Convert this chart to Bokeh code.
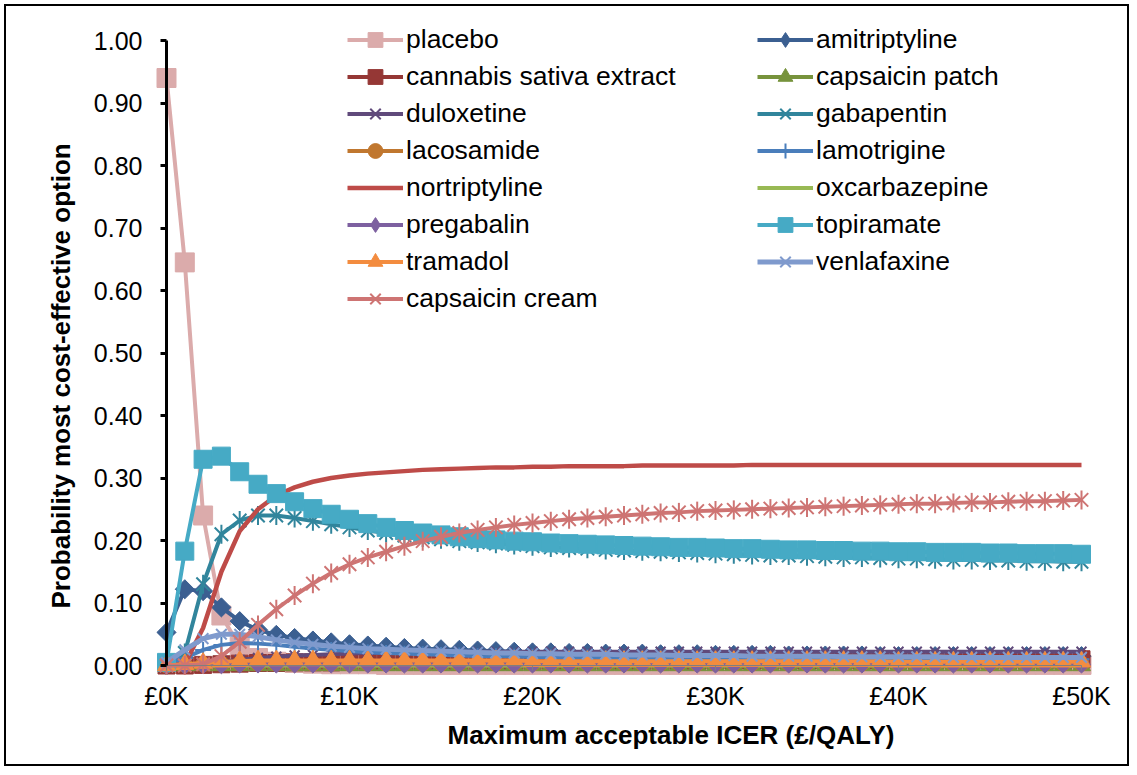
import math
from bokeh.plotting import figure
from bokeh.models import (Range1d, LinearAxis, FixedTicker, Legend, LegendItem,
                          Title, ColumnDataSource, CustomLabelingPolicy)
from bokeh.embed import file_html
from bokeh.resources import INLINE

# ---------------- data ----------------
wtp_k = [0, 1, 2, 3, 4, 5, 6, 7, 8, 9,
         10, 11, 12, 13, 14, 15, 16, 17, 18, 19,
         20, 21, 22, 23, 24, 25, 26, 27, 28, 29,
         30, 31, 32, 33, 34, 35, 36, 37, 38, 39,
         40, 41, 42, 43, 44, 45, 46, 47, 48, 49,
         50]

placebo = [0.940, 0.645, 0.240, 0.080, 0.030, 0.012, 0.006, 0.004, 0.003, 0.002,
           0.002, 0.002, 0.001, 0.001, 0.001, 0.001, 0.001, 0.001, 0.001, 0.001,
           0.001, 0.001, 0.001, 0.001, 0.001, 0.001, 0.001, 0.001, 0.001, 0.001,
           0.001, 0.001, 0.001, 0.001, 0.001, 0.001, 0.001, 0.001, 0.001, 0.001,
           0.001, 0.001, 0.001, 0.001, 0.001, 0.001, 0.001, 0.001, 0.001, 0.001,
           0.001]
amitriptyline = [0.053, 0.122, 0.119, 0.093, 0.071, 0.057, 0.049, 0.044, 0.040, 0.037,
                 0.034, 0.032, 0.030, 0.028, 0.027, 0.026, 0.025, 0.024, 0.023, 0.022,
                 0.021, 0.021, 0.020, 0.020, 0.019, 0.019, 0.019, 0.018, 0.018, 0.018,
                 0.017, 0.017, 0.017, 0.017, 0.016, 0.016, 0.016, 0.016, 0.016, 0.015,
                 0.015, 0.015, 0.015, 0.015, 0.015, 0.015, 0.015, 0.015, 0.015, 0.015,
                 0.015]
cannabis = [0.000, 0.000, 0.001, 0.002, 0.003, 0.004, 0.004, 0.005, 0.005, 0.005,
            0.006, 0.006, 0.006, 0.006, 0.006, 0.006, 0.006, 0.006, 0.006, 0.006,
            0.007, 0.007, 0.007, 0.007, 0.007, 0.007, 0.007, 0.007, 0.007, 0.007,
            0.008, 0.008, 0.008, 0.008, 0.008, 0.008, 0.008, 0.008, 0.008, 0.008,
            0.009, 0.009, 0.009, 0.009, 0.009, 0.009, 0.009, 0.009, 0.009, 0.009,
            0.010]
capsaicin_patch = [0.000, 0.000, 0.000, 0.000, 0.000, 0.000, 0.000, 0.000, 0.000, 0.000,
                   0.000, 0.000, 0.000, 0.000, 0.000, 0.000, 0.000, 0.000, 0.000, 0.000,
                   0.000, 0.000, 0.000, 0.000, 0.000, 0.000, 0.000, 0.000, 0.000, 0.000,
                   0.000, 0.000, 0.000, 0.000, 0.000, 0.000, 0.000, 0.000, 0.000, 0.000,
                   0.000, 0.000, 0.000, 0.000, 0.000, 0.000, 0.000, 0.000, 0.000, 0.000,
                   0.000]
duloxetine = [0.000, 0.001, 0.003, 0.006, 0.009, 0.012, 0.014, 0.016, 0.017, 0.018,
              0.019, 0.020, 0.020, 0.021, 0.021, 0.021, 0.022, 0.022, 0.022, 0.022,
              0.022, 0.022, 0.022, 0.022, 0.022, 0.022, 0.022, 0.022, 0.022, 0.022,
              0.022, 0.022, 0.022, 0.022, 0.022, 0.022, 0.022, 0.022, 0.022, 0.022,
              0.022, 0.022, 0.022, 0.022, 0.022, 0.022, 0.022, 0.022, 0.022, 0.022,
              0.022]
gabapentin = [0.000, 0.020, 0.130, 0.210, 0.232, 0.240, 0.240, 0.236, 0.231, 0.226,
              0.221, 0.216, 0.212, 0.208, 0.205, 0.202, 0.199, 0.197, 0.195, 0.193,
              0.191, 0.189, 0.188, 0.187, 0.185, 0.184, 0.183, 0.182, 0.181, 0.180,
              0.179, 0.178, 0.177, 0.176, 0.176, 0.175, 0.174, 0.173, 0.173, 0.172,
              0.171, 0.171, 0.170, 0.169, 0.169, 0.168, 0.168, 0.167, 0.167, 0.166,
              0.166]
lacosamide = [0.000, 0.001, 0.002, 0.003, 0.003, 0.003, 0.003, 0.003, 0.003, 0.003,
              0.003, 0.003, 0.003, 0.003, 0.003, 0.003, 0.003, 0.003, 0.003, 0.003,
              0.003, 0.003, 0.003, 0.003, 0.003, 0.003, 0.003, 0.003, 0.003, 0.003,
              0.003, 0.003, 0.003, 0.003, 0.003, 0.003, 0.003, 0.003, 0.003, 0.003,
              0.003, 0.003, 0.003, 0.003, 0.003, 0.003, 0.003, 0.003, 0.003, 0.003,
              0.003]
lamotrigine = [0.002, 0.012, 0.025, 0.033, 0.036, 0.035, 0.033, 0.030, 0.027, 0.025,
               0.023, 0.021, 0.020, 0.019, 0.018, 0.017, 0.016, 0.015, 0.015, 0.014,
               0.014, 0.013, 0.013, 0.013, 0.012, 0.012, 0.012, 0.012, 0.011, 0.011,
               0.011, 0.011, 0.011, 0.011, 0.011, 0.011, 0.010, 0.010, 0.010, 0.010,
               0.010, 0.010, 0.010, 0.010, 0.010, 0.010, 0.010, 0.010, 0.010, 0.010,
               0.010]
nortriptyline = [0.000, 0.002, 0.060, 0.150, 0.215, 0.250, 0.272, 0.285, 0.294, 0.300,
                 0.304, 0.307, 0.309, 0.311, 0.313, 0.314, 0.315, 0.316, 0.317, 0.317,
                 0.318, 0.318, 0.319, 0.319, 0.319, 0.319, 0.320, 0.320, 0.320, 0.320,
                 0.320, 0.320, 0.321, 0.321, 0.321, 0.321, 0.321, 0.321, 0.321, 0.321,
                 0.321, 0.321, 0.321, 0.321, 0.321, 0.321, 0.321, 0.321, 0.321, 0.321,
                 0.321]
oxcarbazepine = [0.000, 0.000, 0.000, 0.000, 0.000, 0.000, 0.000, 0.000, 0.000, 0.000,
                 0.000, 0.000, 0.000, 0.000, 0.000, 0.000, 0.000, 0.000, 0.000, 0.000,
                 0.000, 0.000, 0.000, 0.000, 0.000, 0.000, 0.000, 0.000, 0.000, 0.000,
                 0.000, 0.000, 0.000, 0.000, 0.000, 0.000, 0.000, 0.000, 0.000, 0.000,
                 0.000, 0.000, 0.000, 0.000, 0.000, 0.000, 0.000, 0.000, 0.000, 0.000,
                 0.000]
pregabalin = [0.000, 0.000, 0.001, 0.001, 0.002, 0.002, 0.002, 0.002, 0.002, 0.002,
              0.002, 0.002, 0.002, 0.002, 0.002, 0.002, 0.002, 0.002, 0.002, 0.002,
              0.002, 0.002, 0.002, 0.002, 0.002, 0.002, 0.002, 0.002, 0.002, 0.002,
              0.002, 0.002, 0.002, 0.002, 0.002, 0.002, 0.002, 0.002, 0.002, 0.002,
              0.002, 0.002, 0.002, 0.002, 0.002, 0.002, 0.002, 0.002, 0.002, 0.002,
              0.002]
topiramate = [0.005, 0.183, 0.330, 0.335, 0.310, 0.290, 0.275, 0.262, 0.251, 0.242,
              0.234, 0.227, 0.221, 0.216, 0.212, 0.209, 0.206, 0.203, 0.201, 0.199,
              0.198, 0.196, 0.195, 0.194, 0.193, 0.192, 0.191, 0.190, 0.189, 0.189,
              0.188, 0.187, 0.187, 0.186, 0.185, 0.185, 0.184, 0.184, 0.183, 0.183,
              0.182, 0.182, 0.181, 0.181, 0.181, 0.180, 0.180, 0.179, 0.179, 0.179,
              0.178]
tramadol = [0.000, 0.002, 0.004, 0.006, 0.007, 0.008, 0.008, 0.008, 0.008, 0.008,
            0.008, 0.008, 0.008, 0.008, 0.008, 0.008, 0.008, 0.008, 0.008, 0.008,
            0.007, 0.007, 0.007, 0.007, 0.007, 0.007, 0.007, 0.007, 0.007, 0.007,
            0.007, 0.007, 0.007, 0.007, 0.007, 0.007, 0.007, 0.007, 0.007, 0.007,
            0.006, 0.006, 0.006, 0.006, 0.006, 0.006, 0.006, 0.006, 0.006, 0.006,
            0.006]
venlafaxine = [0.005, 0.025, 0.043, 0.050, 0.050, 0.046, 0.041, 0.037, 0.034, 0.031,
               0.029, 0.027, 0.026, 0.025, 0.024, 0.023, 0.022, 0.021, 0.020, 0.020,
               0.019, 0.019, 0.018, 0.018, 0.018, 0.017, 0.017, 0.017, 0.016, 0.016,
               0.016, 0.016, 0.015, 0.015, 0.015, 0.015, 0.015, 0.014, 0.014, 0.014,
               0.014, 0.014, 0.014, 0.013, 0.013, 0.013, 0.013, 0.013, 0.013, 0.013,
               0.013]
capsaicin_cream = [0.000, 0.000, 0.002, 0.015, 0.038, 0.065, 0.090, 0.112, 0.131, 0.148,
                   0.162, 0.173, 0.182, 0.191, 0.199, 0.206, 0.212, 0.217, 0.221, 0.225,
                   0.228, 0.231, 0.234, 0.236, 0.238, 0.240, 0.242, 0.244, 0.245, 0.247,
                   0.248, 0.249, 0.250, 0.251, 0.252, 0.253, 0.254, 0.255, 0.256, 0.257,
                   0.258, 0.259, 0.259, 0.260, 0.261, 0.261, 0.262, 0.263, 0.263, 0.264,
                   0.265]

x_tick_values = [0, 10, 20, 30, 40, 50]
x_tick_labels = ["£0K", "£10K", "£20K", "£30K", "£40K", "£50K"]
y_tick_values = [0.0, 0.1, 0.2, 0.3, 0.4, 0.5, 0.6, 0.7, 0.8, 0.9, 1.0]
y_tick_labels = ["0.00", "0.10", "0.20", "0.30", "0.40", "0.50",
                 "0.60", "0.70", "0.80", "0.90", "1.00"]
x_title = "Maximum acceptable ICER (£/QALY)"
y_title = "Probability most cost-effective option"

# name, values, color, marker, marker size, line width
series = [
    ("placebo", placebo, "#DBABAB", "square", 19, 4),
    ("amitriptyline", amitriptyline, "#3B5F91", "diamond", 13.5, 4),
    ("cannabis sativa extract", cannabis, "#953735", "square", 17, 4),
    ("capsaicin patch", capsaicin_patch, "#77933C", "triangle", 18, 4),
    ("duloxetine", duloxetine, "#604A7B", "x", 14, 4),
    ("gabapentin", gabapentin, "#31859C", "star", 19, 4),
    ("lacosamide", lacosamide, "#C0772F", "circle", 15, 4),
    ("lamotrigine", lamotrigine, "#4A7EBB", "cross", 16, 4),
    ("nortriptyline", nortriptyline, "#BE4B48", None, 0, 4.5),
    ("oxcarbazepine", oxcarbazepine, "#98B954", None, 0, 4),
    ("pregabalin", pregabalin, "#7D60A0", "diamond", 12.5, 4),
    ("topiramate", topiramate, "#46AAC5", "square", 18, 4),
    ("tramadol", tramadol, "#F38C3F", "triangle", 18, 4),
    ("venlafaxine", venlafaxine, "#7F9ACD", "x", 15, 5),
    ("capsaicin cream", capsaicin_cream, "#CE7473", "star", 19, 4),
]

# ---------------- layout ----------------
W, H = 1125, 762
ML, MR, MT, MB = 144, 31, 8, 88
PX_PER_K = 18.3
PX_PER_UNIT = 625.0
x0 = -16 / PX_PER_K
x1 = x0 + (W - ML - MR) / PX_PER_K
y0 = -15 / PX_PER_UNIT
y1 = y0 + (H - MT - MB) / PX_PER_UNIT

p = figure(width=W, height=H, x_range=Range1d(x0, x1), y_range=Range1d(y0, y1),
           output_backend="svg", toolbar_location=None,
           x_axis_type=None, y_axis_type=None,
           min_border_left=ML, min_border_right=MR, min_border_top=MT, min_border_bottom=MB)
p.outline_line_color = None
p.grid.visible = False
p.background_fill_color = "white"
p.border_fill_color = "white"
p.styles = {"margin-left": "4px", "margin-top": "4px", "border": "2px solid black"}
# range used only by legend proxy glyphs (keeps them out of view)
p.extra_y_ranges = {"legend_proxy": Range1d(10, 11)}

FONT = "Liberation Sans"
no_labels = CustomLabelingPolicy(code="for (const i of indices) { indices.unset(i) } return indices")

# tick labels (side axes, labels only)
ylab = LinearAxis(ticker=FixedTicker(ticks=y_tick_values))
ylab.major_label_overrides = {v: s for v, s in zip(y_tick_values, y_tick_labels)}
ylab.axis_line_color = None
ylab.major_tick_line_color = None
ylab.minor_tick_line_color = None
ylab.major_tick_out = 0
ylab.major_tick_in = 0
ylab.major_label_standoff = 8
ylab.major_label_text_font = FONT
ylab.major_label_text_font_size = "25px"
ylab.major_label_text_color = "black"
p.add_layout(ylab, "left")

xlab = LinearAxis(ticker=FixedTicker(ticks=x_tick_values))
xlab.major_label_overrides = {v: s for v, s in zip(x_tick_values, x_tick_labels)}
xlab.axis_line_color = None
xlab.major_tick_line_color = None
xlab.minor_tick_line_color = None
xlab.major_tick_out = 0
xlab.major_tick_in = 0
xlab.major_label_standoff = 1
xlab.major_label_text_font = FONT
xlab.major_label_text_font_size = "25px"
xlab.major_label_text_color = "black"
p.add_layout(xlab, "below")

# axis lines and ticks at the zero positions
yaxis = LinearAxis(fixed_location=0, bounds=(0, 1), ticker=FixedTicker(ticks=y_tick_values))
yaxis.axis_line_width = 3
yaxis.axis_line_color = "black"
yaxis.major_tick_line_width = 3
yaxis.major_tick_out = 6
yaxis.major_tick_in = 0
yaxis.minor_tick_line_color = None
yaxis.major_label_policy = no_labels
yaxis.major_label_standoff = 0
p.add_layout(yaxis, "left")

xaxis = LinearAxis(fixed_location=0, bounds=(0, 50), ticker=FixedTicker(ticks=x_tick_values))
xaxis.axis_line_width = 1
xaxis.axis_line_color = "#7F7F7F"
xaxis.major_tick_line_color = "#7F7F7F"
xaxis.major_tick_out = 5
xaxis.major_tick_in = 0
xaxis.minor_tick_line_color = None
xaxis.major_label_policy = no_labels
xaxis.major_label_standoff = 0
p.add_layout(xaxis, "below")

# axis titles
p.add_layout(Title(text=x_title, align="left", offset=297, standoff=10,
                   text_font=FONT, text_font_size="26px", text_font_style="bold",
                   text_color="black"), "below")
p.add_layout(Title(text=y_title, align="left", offset=72, standoff=30,
                   text_font=FONT, text_font_size="26px", text_font_style="bold",
                   text_color="black"), "left")

items = {}
for name, vals, color, marker, msize, lw in series:
    src = ColumnDataSource(data=dict(x=wtp_k, y=vals))
    rs = [p.line("x", "y", source=src, line_color=color, line_width=lw)]
    if marker == "star":
        rs.append(p.scatter("x", "y", source=src, marker="x", size=msize,
                            line_color=color, line_width=2))
        rs.append(p.scatter("x", "y", source=src, marker="dash", size=msize, angle=math.pi / 2,
                            line_color=color, line_width=2))
    elif marker == "diamond":
        p.scatter("x", "y", source=src, marker="square", size=msize, angle=math.pi / 4,
                  fill_color=color, line_color=color)
        # same data on an out-of-view range, only so the legend shows a diamond
        rs.append(p.scatter("x", "y", source=src, marker="diamond", size=msize,
                            fill_color=color, line_color=color, y_range_name="legend_proxy"))
    elif marker in ("x", "cross"):
        rs.append(p.scatter("x", "y", source=src, marker=marker, size=msize,
                            line_color=color, line_width=2))
    elif marker is not None:
        rs.append(p.scatter("x", "y", source=src, marker=marker, size=msize,
                            fill_color=color, line_color=color))
    items[name] = rs

col1 = ["placebo", "cannabis sativa extract", "duloxetine", "lacosamide",
        "nortriptyline", "pregabalin", "tramadol", "capsaicin cream"]
col2 = ["amitriptyline", "capsaicin patch", "gabapentin", "lamotrigine",
        "oxcarbazepine", "topiramate", "venlafaxine"]


def make_legend(names, loc):
    lg = Legend(items=[LegendItem(label=n, renderers=items[n]) for n in names],
                location=loc, orientation="vertical")
    lg.glyph_width = 56
    lg.glyph_height = 37
    lg.label_height = 37
    lg.spacing = 0
    lg.padding = 0
    lg.margin = 0
    lg.label_standoff = 3
    lg.label_text_font = FONT
    lg.label_text_font_size = "26.5px"
    lg.label_text_color = "black"
    lg.background_fill_alpha = 0
    lg.border_line_color = None
    lg.click_policy = "none"
    return lg


p.add_layout(make_legend(col1, (197, 363)))
p.add_layout(make_legend(col2, (607, 400)))

open("out.html", "w").write(file_html(p, INLINE))
